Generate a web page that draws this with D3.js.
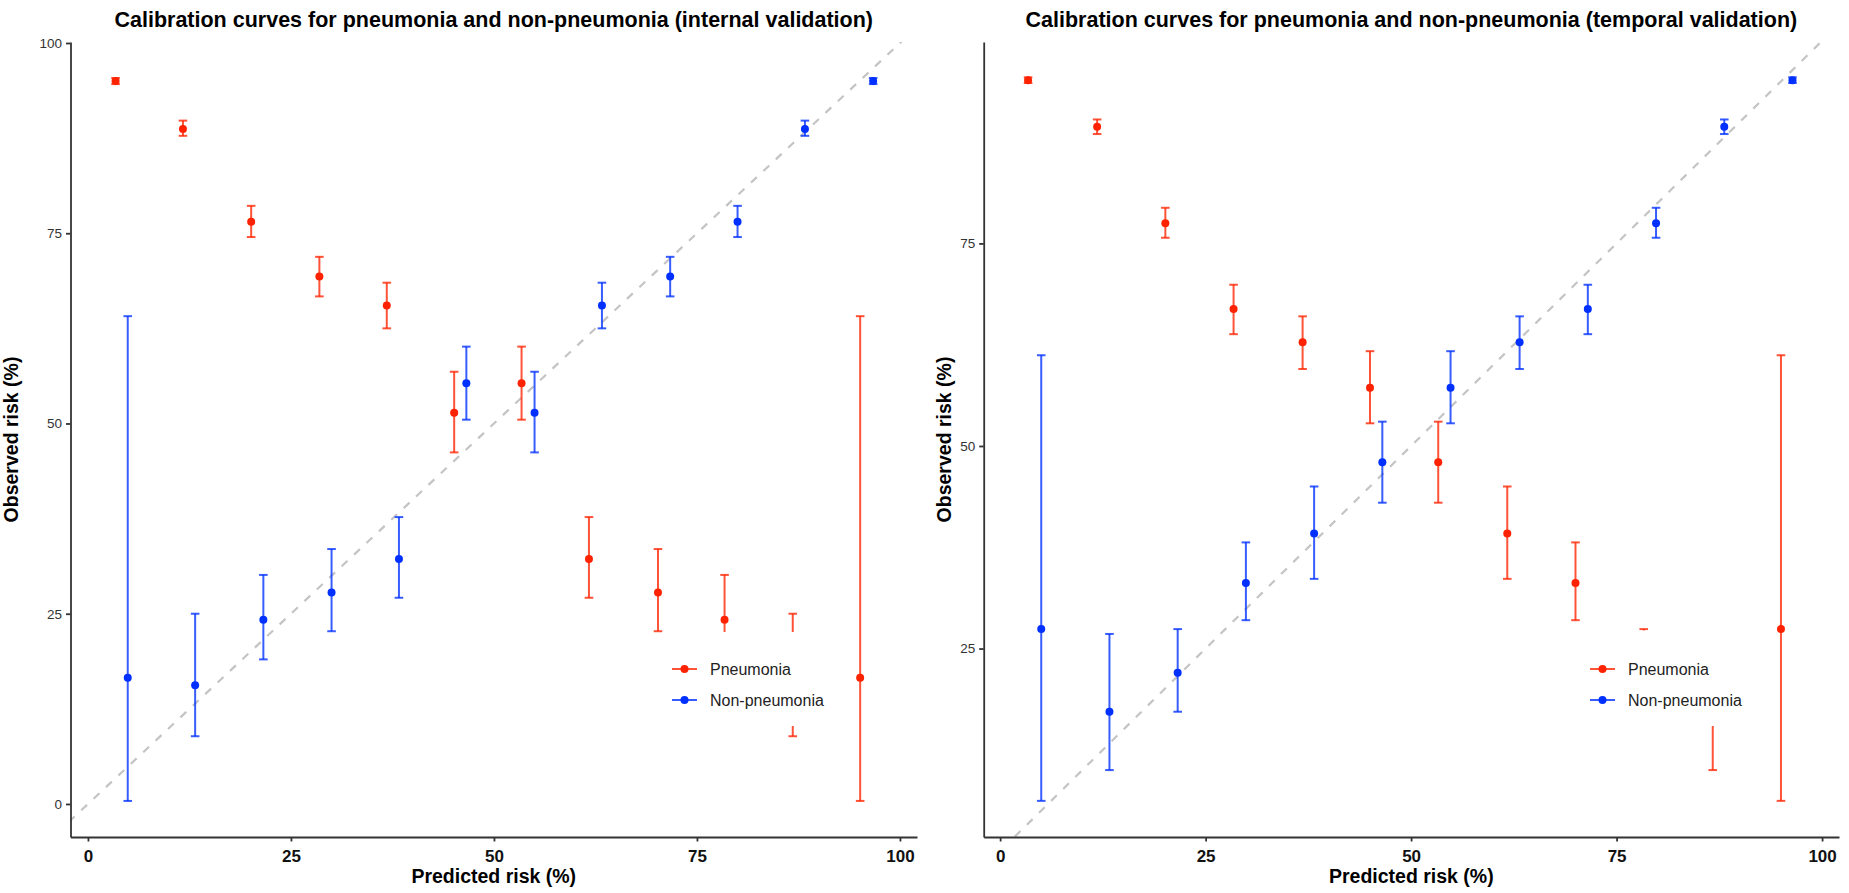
<!DOCTYPE html>
<meta charset="utf-8">
<style>
  body { margin: 0; background: #fff; }
  svg { display: block; font-family: "Liberation Sans", Arial, Helvetica, sans-serif; }
  .axis path, .axis line { stroke: #333; stroke-width: 1.8; }
  .axis.x text { font-size: 17px; font-weight: bold; fill: #111; }
  .axis.y text { font-size: 13.5px; fill: #333; }
</style>
<body>
<svg class="chart"></svg>

<script src="https://cdn.jsdelivr.net/npm/d3@7"></script>
<script>

// Internal validation: pneumonia
var predIntPneu = [3.4, 11.7, 20.1, 28.5, 36.8, 45.1, 53.4, 61.7, 70.2, 78.4, 86.8, 95.1];
var obsIntPneu  = [95.0, 88.7, 76.5, 69.3, 65.5, 51.4, 55.3, 32.2, 27.8, 24.2, 15.6, 16.6];
var loIntPneu   = [94.6, 87.8, 74.5, 66.7, 62.5, 46.2, 50.5, 27.1, 22.7, 19.0, 8.9, 0.4];
var hiIntPneu   = [95.4, 89.8, 78.6, 71.9, 68.5, 56.8, 60.1, 37.7, 33.5, 30.1, 25.0, 64.1];

// Internal validation: non-pneumonia
var predIntNon = [4.9, 13.2, 21.6, 30.0, 38.3, 46.6, 55.0, 63.3, 71.7, 80.0, 88.3, 96.7];
var obsIntNon  = [16.6, 15.6, 24.2, 27.8, 32.2, 55.3, 51.4, 65.5, 69.3, 76.5, 88.7, 95.0];
var loIntNon   = [0.4, 8.9, 19.0, 22.7, 27.1, 50.5, 46.2, 62.5, 66.7, 74.5, 87.8, 94.6];
var hiIntNon   = [64.1, 25.0, 30.1, 33.5, 37.7, 60.1, 56.8, 68.5, 71.9, 78.6, 89.8, 95.4];

// Temporal validation: pneumonia
var predTmpPneu = [3.4, 11.8, 20.1, 28.4, 36.8, 45.0, 53.3, 61.7, 70.0, 78.3, 86.7, 95.0];
var obsTmpPneu  = [95.15, 89.4, 77.5, 66.9, 62.8, 57.2, 48.0, 39.2, 33.1, 22.0, 17.2, 27.4];
var loTmpPneu   = [94.8, 88.5, 75.7, 63.8, 59.5, 52.8, 43.0, 33.6, 28.5, 17.2, 10.0, 6.2];
var hiTmpPneu   = [95.5, 90.3, 79.4, 69.9, 66.0, 61.7, 53.0, 45.0, 38.1, 27.4, 26.8, 61.2];

// Temporal validation: non-pneumonia
var predTmpNon = [5.0, 13.3, 21.6, 29.9, 38.2, 46.5, 54.8, 63.2, 71.5, 79.8, 88.1, 96.4];
var obsTmpNon  = [27.4, 17.2, 22.0, 33.1, 39.2, 48.0, 57.2, 62.8, 66.9, 77.5, 89.4, 95.15];
var loTmpNon   = [6.2, 10.0, 17.2, 28.5, 33.6, 43.0, 52.8, 59.5, 63.8, 75.7, 88.5, 94.8];
var hiTmpNon   = [61.2, 26.8, 27.4, 38.1, 45.0, 53.0, 61.7, 66.0, 69.9, 79.4, 90.3, 95.5];

var seriesNames = ["Pneumonia", "Non-pneumonia"];
var xTicks = [0, 25, 50, 75, 100];
var yTicks = [0, 25, 50, 75, 100];

var colors = { "Pneumonia": "#ff2200", "Non-pneumonia": "#0030ff" };

var svg = d3.select(".chart")
    .attr("width", 1849)
    .attr("height", 893);

function rows(pred, obs, lo, hi, name) {
  return pred.map(function(p, i) {
    return { pred: p, obs: obs[i], lo: lo[i], hi: hi[i], name: name };
  });
}

function drawPanel(opt) {
  var g = svg.append("g");

  var x = d3.scaleLinear().domain(opt.xDomain).range([opt.left, opt.right]);
  var y = d3.scaleLinear().domain(opt.yDomain).range([opt.bottom, opt.top]);

  // clip for the reference line
  g.append("clipPath").attr("id", opt.id + "-clip")
    .append("rect")
    .attr("x", opt.left).attr("y", opt.top)
    .attr("width", opt.right - opt.left).attr("height", opt.bottom - opt.top);

  // diagonal y = x
  g.append("line")
    .attr("clip-path", "url(#" + opt.id + "-clip)")
    .attr("x1", x(-10)).attr("y1", y(-10))
    .attr("x2", x(110)).attr("y2", y(110))
    .attr("stroke", "#c4c4c4")
    .attr("stroke-width", 2.2)
    .attr("stroke-dasharray", "8,9");

  // error bars and points
  opt.series.forEach(function(s) {
    var col = colors[s[0].name];
    var bars = g.append("g")
        .attr("stroke", col)
        .attr("stroke-opacity", 0.78)
        .attr("stroke-width", 2);
    var sel = bars.selectAll("g").data(s).enter().append("g");
    sel.append("line")
      .attr("x1", function(d) { return x(d.pred); })
      .attr("x2", function(d) { return x(d.pred); })
      .attr("y1", function(d) { return y(d.lo); })
      .attr("y2", function(d) { return y(d.hi); });
    sel.append("line")
      .attr("x1", function(d) { return x(d.pred) - 4.3; })
      .attr("x2", function(d) { return x(d.pred) + 4.3; })
      .attr("y1", function(d) { return y(d.lo); })
      .attr("y2", function(d) { return y(d.lo); });
    sel.append("line")
      .attr("x1", function(d) { return x(d.pred) - 4.3; })
      .attr("x2", function(d) { return x(d.pred) + 4.3; })
      .attr("y1", function(d) { return y(d.hi); })
      .attr("y2", function(d) { return y(d.hi); });

    g.append("g").selectAll("circle")
      .data(s)
      .enter().append("circle")
      .attr("cx", function(d) { return x(d.pred); })
      .attr("cy", function(d) { return y(d.obs); })
      .attr("r", 4)
      .attr("fill", col);
  });

  // axes
  var xAxis = d3.axisBottom(x)
      .tickValues(xTicks)
      .tickSizeInner(4.5)
      .tickSizeOuter(0)
      .tickPadding(8);
  g.append("g")
    .attr("class", "x axis")
    .attr("transform", "translate(0," + opt.bottom + ")")
    .call(xAxis);

  var yAxis = d3.axisLeft(y)
      .tickValues(yTicks.filter(function(t) { return t >= opt.yDomain[0] && t <= opt.yDomain[1]; }))
      .tickSizeInner(4.5)
      .tickSizeOuter(0)
      .tickPadding(4);
  g.append("g")
    .attr("class", "y axis")
    .attr("transform", "translate(" + opt.left + ",0)")
    .call(yAxis);

  var mid = (opt.left + opt.right) / 2;

  // title
  g.append("text")
    .attr("x", mid)
    .attr("y", 27)
    .attr("text-anchor", "middle")
    .style("font-size", "21.5px")
    .style("font-weight", "bold")
    .text(opt.title);

  // axis titles
  g.append("text")
    .attr("x", mid)
    .attr("y", 883)
    .attr("text-anchor", "middle")
    .style("font-size", "19.5px")
    .style("font-weight", "bold")
    .text("Predicted risk (%)");

  g.append("text")
    .attr("transform", "translate(" + opt.yLabelX + "," + ((opt.top + opt.bottom) / 2) + ") rotate(-90)")
    .attr("text-anchor", "middle")
    .style("font-size", "19.5px")
    .style("font-weight", "bold")
    .text("Observed risk (%)");

  // legend, drawn over the plot with a white box
  var lg = g.append("g");
  lg.append("rect")
    .attr("x", opt.legend[0]).attr("y", opt.legend[1])
    .attr("width", opt.legend[2]).attr("height", opt.legend[3])
    .attr("fill", "#fff");
  var item = lg.selectAll("g.item")
    .data(seriesNames)
    .enter().append("g")
    .attr("class", "item")
    .attr("transform", function(d, i) {
      return "translate(" + (opt.legend[0] + 10) + "," + (669 + i * 31) + ")";
    });
  item.append("line")
    .attr("x1", 0).attr("x2", 25)
    .attr("stroke", function(d) { return colors[d]; })
    .attr("stroke-opacity", 0.78)
    .attr("stroke-width", 2);
  item.append("circle")
    .attr("cx", 12.5).attr("r", 4)
    .attr("fill", function(d) { return colors[d]; });
  item.append("text")
    .attr("x", 38)
    .attr("dy", "0.35em")
    .style("font-size", "16px")
    .style("fill", "#222")
    .text(function(d) { return d; });
}

drawPanel({
  id: "internal",
  title: "Calibration curves for pneumonia and non-pneumonia (internal validation)",
  left: 70.5, right: 917, top: 42, bottom: 837,
  xDomain: [-2.15, 102.1],
  yDomain: [-4.34, 100.13],
  yLabelX: 18.3,
  legend: [662, 632, 178, 94],
  series: [rows(predIntPneu, obsIntPneu, loIntPneu, hiIntPneu, "Pneumonia"),
           rows(predIntNon, obsIntNon, loIntNon, hiIntNon, "Non-pneumonia")]
});

drawPanel({
  id: "temporal",
  title: "Calibration curves for pneumonia and non-pneumonia (temporal validation)",
  left: 983.7, right: 1839, top: 42, bottom: 837,
  xDomain: [-2.0, 102.06],
  yDomain: [1.74, 99.86],
  yLabelX: 951,
  legend: [1580, 630.5, 176, 95.5],
  series: [rows(predTmpPneu, obsTmpPneu, loTmpPneu, hiTmpPneu, "Pneumonia"),
           rows(predTmpNon, obsTmpNon, loTmpNon, hiTmpNon, "Non-pneumonia")]
});

</script>
</body>
